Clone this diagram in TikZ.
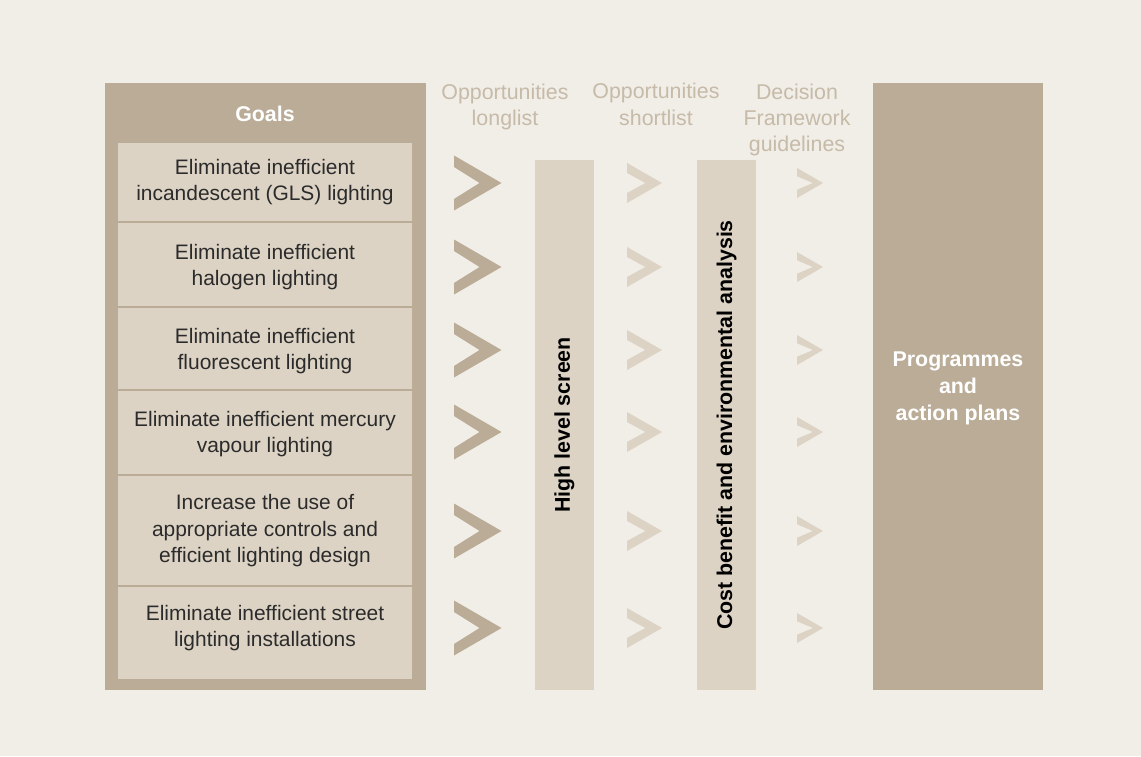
\documentclass[tikz,border=0pt]{standalone}
\usepackage{fontspec}
\setmainfont{Liberation Sans}

\definecolor{paper}{HTML}{F1EDE7}
\definecolor{sand}{HTML}{BAAC96}
\definecolor{pale}{HTML}{DCD3C4}
\definecolor{faded}{HTML}{C6BAA8}
\definecolor{ink}{HTML}{2B2B2B}

%% chevron: left x, centre y, width, half height, arm thickness, notch depth
\newcommand{\chevron}[7]{%
    \fill[#7] (#1,#2-#4) -- (#1+#3,#2) -- (#1,#2+#4) -- (#1,#2+#4-#5)
        -- (#1+#3-#6,#2) -- (#1,#2-#4+#5) -- cycle;}

\tikzset{
    goaltext/.style={font=\fontsize{14.9}{18.8}\selectfont, text=ink, align=center},
    headtext/.style={font=\fontsize{15.2}{18.8}\selectfont, text=faded, align=center},
    boldtext/.style={font=\fontsize{15.2}{19}\selectfont\bfseries, align=center},
}

\begin{document}
\begin{tikzpicture}[x=0.025cm,y=-0.025cm]
        %% Background
        \fill[paper] (0,0) rectangle (1141,756);
        %% Panels and bars
        \fill[sand] (105,83) rectangle (426,690);
        \fill[sand] (873,83) rectangle (1043,690);
        \fill[pale] (535,160) rectangle (594,690);
        \fill[pale] (697,160) rectangle (756,690);
        \node[boldtext, text=white] (goals) at (265,114) {Goals};
        \node[boldtext, text=white] (plans) at (958,388.5)
            {Programmes\\and\\action plans};
        \node[boldtext, text=black, rotate=90] (screen) at (564.5,425)
            {High level screen};
        \node[boldtext, text=black, rotate=90] (analysis) at (726.5,425)
            {Cost benefit and environmental analysis};
        %% Column headings
        \node[headtext] (longlist) at (505,107) {Opportunities\\longlist};
        \node[headtext] (shortlist) at (656,104.5) {Opportunities\\shortlist};
        \node[headtext] (guidelines) at (797,120) {Decision\\Framework\\guidelines};
        %% Goals and chevrons
        \foreach \i/\top/\bot/\ty/\cy/\txt in {
            1/143/221/182/183/{Eliminate inefficient\\incandescent (GLS) lighting},
            2/223/306/267/267/{Eliminate inefficient\\halogen lighting},
            3/308/389/351/350/{Eliminate inefficient\\fluorescent lighting},
            4/391/474/434/432/{Eliminate inefficient mercury\\vapour lighting},
            5/476/585/531/531/{Increase the use of\\appropriate controls and\\efficient lighting design},
            6/587/679/628/628/{Eliminate inefficient street\\lighting installations}} {
            \fill[pale] (118,\top) rectangle (412,\bot);
            \node[goaltext] (goal\i) at (265,\ty) {\txt};
            \chevron{454}{\cy}{47.5}{27.5}{11.5}{22}{sand}
            \chevron{627}{\cy}{35}{20}{10}{16.7}{pale}
            \chevron{797}{\cy}{26}{15}{8.3}{10}{pale}
        }
\end{tikzpicture}
\end{document}
